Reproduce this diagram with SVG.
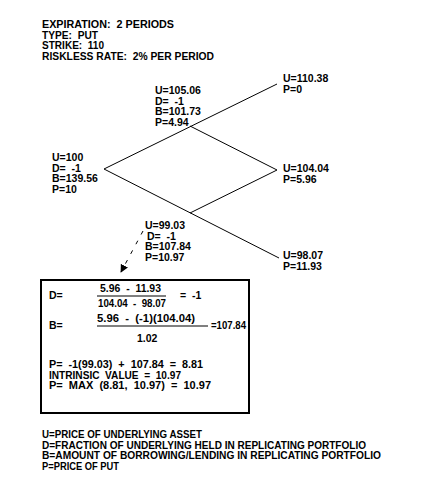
<svg xmlns="http://www.w3.org/2000/svg" width="431" height="489" viewBox="0 0 431 489">
<style>
text{font-family:"Liberation Sans",Arial,sans-serif;font-size:10.5px;font-weight:bold;fill:#000;white-space:pre}
.ln{stroke:#000;stroke-width:1;fill:none}
.box{stroke:#000;stroke-width:2;fill:#fff}
</style>
<defs>
<marker id="ah" viewBox="0 0 10 10" refX="9" refY="5" markerWidth="8" markerHeight="8" markerUnits="userSpaceOnUse" orient="auto">
<path d="M0,0 L10,5 L0,10 z" fill="#000"/>
</marker>
</defs>
<g id="header">
<text x="42" y="28" xml:space="preserve" textLength="132" lengthAdjust="spacingAndGlyphs">EXPIRATION:  2 PERIODS</text>
<text x="42" y="38.5" xml:space="preserve" textLength="56" lengthAdjust="spacingAndGlyphs">TYPE:  PUT</text>
<text x="42" y="49" xml:space="preserve" textLength="62" lengthAdjust="spacingAndGlyphs">STRIKE:  110</text>
<text x="42" y="59.5" xml:space="preserve" textLength="172" lengthAdjust="spacingAndGlyphs">RISKLESS RATE:  2% PER PERIOD</text>
</g>
<g id="connectors">
<line class="ln" x1="104" y1="169" x2="277" y2="84"/>
<line class="ln" x1="190" y1="126" x2="277" y2="170"/>
<line class="ln" x1="104" y1="169" x2="279" y2="258"/>
<line class="ln" x1="190" y1="213" x2="277" y2="170"/>
<line class="ln" x1="143" y1="231" x2="121" y2="272" stroke-dasharray="4,7" marker-end="url(#ah)"/>
</g>
<g id="node-root">
<text x="52" y="161">U=100</text>
<text x="52" y="171.5" xml:space="preserve">D=  -1</text>
<text x="52" y="182">B=139.56</text>
<text x="52" y="192.5">P=10</text>
</g>
<g id="node-up">
<text x="155" y="94">U=105.06</text>
<text x="155" y="104.5" xml:space="preserve">D=  -1</text>
<text x="155" y="115">B=101.73</text>
<text x="155" y="125.5">P=4.94</text>
</g>
<g id="node-upup">
<text x="283" y="82">U=110.38</text>
<text x="283" y="92.5">P=0</text>
</g>
<g id="node-mid">
<text x="283" y="172">U=104.04</text>
<text x="283" y="182.5">P=5.96</text>
</g>
<g id="node-down">
<text x="145" y="229">U=99.03</text>
<text x="147" y="239.5" xml:space="preserve">D=  -1</text>
<text x="145" y="250">B=107.84</text>
<text x="145" y="260.5">P=10.97</text>
</g>
<g id="node-downdown">
<text x="283" y="259">U=98.07</text>
<text x="283" y="269.5">P=11.93</text>
</g>
<g id="calc">
<rect class="box" x="41" y="280" width="208" height="133"/>
<text x="49" y="299">D=</text>
<text x="100" y="292" xml:space="preserve" textLength="61" lengthAdjust="spacingAndGlyphs">5.96  -  11.93</text>
<line class="ln" x1="97" y1="296" x2="166" y2="296"/>
<text x="98" y="307" xml:space="preserve" textLength="68" lengthAdjust="spacingAndGlyphs">104.04  -  98.07</text>
<text x="180" y="299" xml:space="preserve">=  -1</text>
<text x="49" y="329">B=</text>
<text x="97" y="322" xml:space="preserve" textLength="98" lengthAdjust="spacingAndGlyphs">5.96  -  (-1)(104.04)</text>
<line class="ln" x1="97" y1="326" x2="208" y2="326"/>
<text x="137" y="342">1.02</text>
<text x="211" y="329" textLength="35" lengthAdjust="spacingAndGlyphs">=107.84</text>
<text x="49" y="368" xml:space="preserve" textLength="154" lengthAdjust="spacingAndGlyphs">P=  -1(99.03)  +  107.84  =  8.81</text>
<text x="49" y="378.5" xml:space="preserve" textLength="132" lengthAdjust="spacingAndGlyphs">INTRINSIC  VALUE  =  10.97</text>
<text x="49" y="389" xml:space="preserve" textLength="162" lengthAdjust="spacingAndGlyphs">P=  MAX  (8.81,  10.97)  =  10.97</text>
</g>
<g id="legend">
<text x="42" y="438" textLength="160" lengthAdjust="spacingAndGlyphs">U=PRICE OF UNDERLYING ASSET</text>
<text x="42" y="448.5" textLength="324" lengthAdjust="spacingAndGlyphs">D=FRACTION OF UNDERLYING HELD IN REPLICATING PORTFOLIO</text>
<text x="42" y="459" textLength="339" lengthAdjust="spacingAndGlyphs">B=AMOUNT OF BORROWING/LENDING IN REPLICATING PORTFOLIO</text>
<text x="42" y="469.5" textLength="77" lengthAdjust="spacingAndGlyphs">P=PRICE OF PUT</text>
</g>
</svg>
